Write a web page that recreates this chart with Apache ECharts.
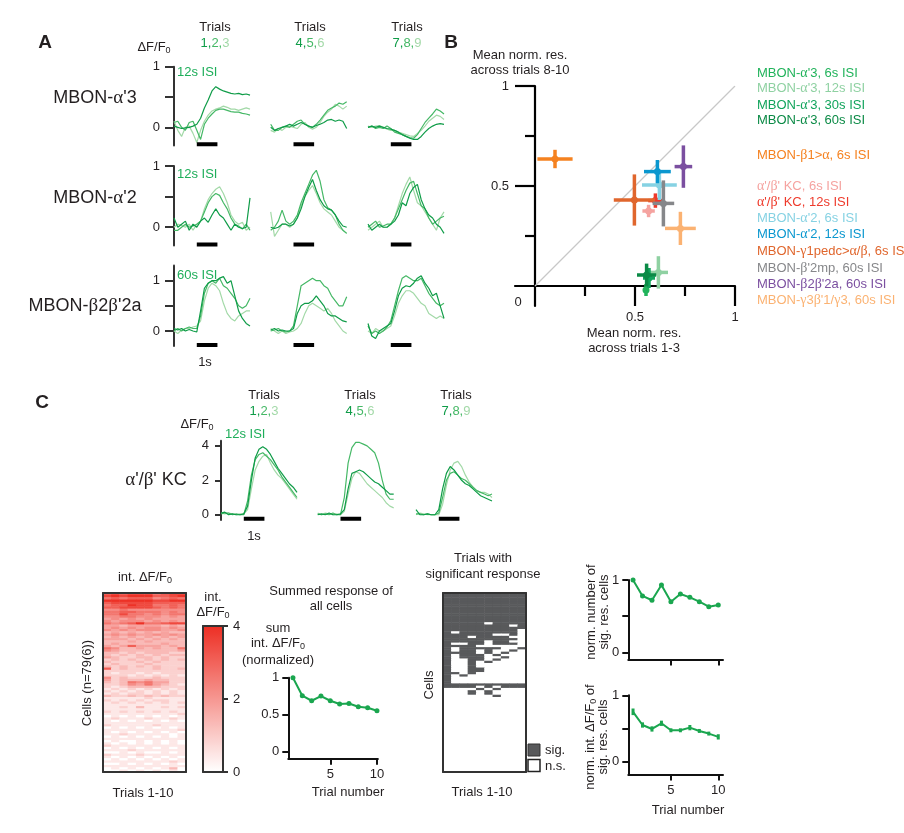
<!DOCTYPE html>
<html><head><meta charset="utf-8">
<script src="https://cdn.jsdelivr.net/npm/echarts@6.0.0/dist/echarts.min.js"></script>
<style>html,body{margin:0;padding:0;background:#fff}#c{width:904px;height:833px}</style>
</head><body><div id="c"></div><script>
// ---------------- DATA ----------------
const time = [0,0.175,0.35,0.525,0.7,0.875,1.05,1.225,1.4,1.575,1.75,1.925,2.1,2.275,2.45,2.625,2.8,2.975,3.15,3.325,3.5];
const stimulus = [1.05, 2.0];
const trialHeaders = [["1","2","3"],["4","5","6"],["7","8","9"]];

// Panel A: MBON-α'3 (12s ISI), trials 1-3 / 4-6 / 7-9
const alpha3_c1 = [
 [0.02,0.0,-0.02,-0.01,0.0,0.02,0.05,0.15,0.32,0.45,0.6,0.67,0.63,0.6,0.58,0.56,0.55,0.56,0.54,0.55,0.53],
 [0.08,0.1,0.0,-0.05,0.08,0.1,-0.05,-0.2,0.05,0.15,0.22,0.28,0.3,0.3,0.28,0.26,0.25,0.25,0.23,0.22,0.2],
 [0.1,-0.05,-0.15,0.0,0.02,-0.1,-0.25,-0.05,0.1,0.2,0.27,0.3,0.32,0.35,0.33,0.3,0.3,0.28,0.3,0.32,0.3]];
const alpha3_c2 = [
 [0.0,-0.05,-0.02,0.0,0.02,0.05,0.02,0.05,0.08,0.05,0.02,0.0,0.03,0.05,0.08,0.12,0.13,0.1,0.12,0.1,-0.02],
 [0.05,-0.05,-0.05,0.0,0.02,0.0,0.05,0.1,0.12,0.05,0.02,0.0,0.05,0.12,0.2,0.28,0.32,0.35,0.4,0.38,0.42],
 [-0.05,-0.08,-0.02,-0.05,0.0,0.02,0.0,-0.02,0.05,0.08,0.0,-0.03,0.0,0.08,0.18,0.25,0.3,0.38,0.35,0.3,0.35]];
const alpha3_c3 = [
 [0.0,0.02,0.0,0.02,0.0,-0.02,-0.03,-0.05,-0.08,-0.12,-0.15,-0.18,-0.2,-0.2,-0.15,-0.08,-0.02,0.02,0.05,0.06,0.05],
 [0.0,0.02,-0.02,0.0,-0.02,0.02,-0.02,-0.08,-0.1,-0.12,-0.15,-0.17,-0.18,-0.12,-0.02,0.08,0.15,0.22,0.3,0.27,0.22],
 [0.02,0.0,0.02,0.03,0.0,-0.03,-0.05,-0.05,-0.08,-0.1,-0.12,-0.14,-0.15,-0.1,-0.05,0.02,0.1,0.15,0.2,0.18,0.13]];
// MBON-α'2 (12s ISI)
const alpha2_c1 = [
 [0.15,0.0,0.05,0.1,-0.05,0.05,0.0,0.1,0.15,0.08,0.2,0.3,0.2,0.15,0.05,-0.05,0.05,0.0,-0.02,0.0,0.48],
 [-0.05,-0.05,0.0,0.05,0.0,0.02,0.05,0.1,0.25,0.4,0.5,0.55,0.52,0.4,0.3,0.15,0.05,0.02,-0.03,0.05,-0.05],
 [0.0,0.05,0.03,0.0,0.05,-0.05,0.05,0.1,0.3,0.45,0.55,0.62,0.66,0.55,0.4,0.2,0.1,0.05,0.08,-0.05,0.0]];
const alpha2_c2 = [
 [0.0,-0.02,0.0,0.05,0.05,0.02,0.05,0.15,0.3,0.5,0.65,0.78,0.6,0.45,0.35,0.3,0.28,0.2,0.1,0.02,0.0],
 [-0.05,0.0,0.1,0.28,0.1,0.05,0.1,0.2,0.4,0.55,0.7,0.85,0.93,0.75,0.45,0.32,0.28,0.2,0.05,-0.05,-0.1],
 [0.25,-0.15,-0.05,0.05,0.05,0.0,0.05,0.15,0.35,0.5,0.6,0.68,0.55,0.4,0.3,0.25,0.2,0.1,0.0,-0.05,-0.1]];
const alpha2_c3 = [
 [0.05,-0.05,0.0,0.05,0.0,0.0,0.05,0.1,0.2,0.4,0.35,0.55,0.65,0.7,0.45,0.3,0.2,0.15,0.05,0.0,-0.1],
 [0.0,0.05,0.1,0.0,0.02,0.05,0.05,0.15,0.3,0.45,0.6,0.72,0.75,0.55,0.35,0.3,0.15,0.05,0.1,0.15,0.18],
 [-0.05,0.0,0.05,0.1,0.0,0.0,0.05,0.15,0.35,0.55,0.7,0.82,0.6,0.4,0.35,0.25,0.15,0.05,-0.05,0.15,0.25]];
// MBON-β2β'2a (60s ISI)
const beta2_c1 = [
 [0.05,0.02,0.05,0.0,0.03,0.0,-0.02,0.4,0.85,0.95,1.0,1.0,1.05,1.08,0.95,1.0,0.7,0.4,0.25,0.15,0.1],
 [0.0,0.05,0.0,0.05,0.08,0.05,0.05,0.3,0.75,0.95,1.0,0.95,1.05,0.9,0.85,0.75,0.65,0.5,0.45,0.5,0.65],
 [0.0,-0.05,0.02,0.05,0.05,0.08,0.1,0.2,0.6,0.85,0.95,0.9,0.8,0.55,0.35,0.25,0.2,0.3,0.35,0.4,0.4]];
const beta2_c2 = [
 [0.02,0.05,0.0,0.02,0.0,0.0,0.05,0.35,0.5,0.55,0.55,0.6,0.7,0.6,0.5,0.35,0.3,0.3,0.25,0.2,0.18],
 [0.0,0.02,0.05,0.0,-0.02,0.0,0.1,0.5,0.9,0.95,1.0,1.05,1.0,1.0,0.9,0.85,0.7,0.6,0.5,0.5,0.68],
 [0.05,0.0,-0.05,0.0,-0.05,-0.02,0.0,0.05,0.15,0.35,0.5,0.55,0.5,0.45,0.4,0.45,0.35,0.2,0.1,0.0,-0.05]];
const beta2_c3 = [
 [0.15,-0.1,-0.15,0.0,0.05,0.1,0.15,0.4,0.7,0.85,0.9,0.88,0.95,1.05,1.1,0.95,0.85,0.7,0.75,0.5,0.25],
 [0.1,-0.05,0.0,-0.05,0.0,0.08,0.2,0.5,0.8,1.05,1.1,1.05,1.0,1.0,1.05,0.9,0.75,0.65,0.55,0.5,0.55],
 [0.0,-0.05,0.05,0.0,0.0,0.05,0.1,0.3,0.55,0.7,0.8,0.8,0.75,0.65,0.55,0.5,0.35,0.3,0.25,0.3,0.25]];
// Panel C: α'/β' KC (12s ISI)
const kc_c1 = [
 [0.1,0.15,0.0,0.05,0.0,0.0,0.05,0.5,2.0,3.3,3.8,3.95,3.8,3.5,3.1,2.7,2.4,2.1,1.8,1.6,1.3],
 [0.05,0.1,0.1,0.0,0.05,0.0,0.0,0.8,2.3,3.2,3.5,3.6,3.4,3.2,2.9,2.6,2.2,1.9,1.6,1.3,1.0],
 [0.1,0.05,0.1,0.05,0.0,0.05,0.05,0.3,1.5,2.6,3.1,3.4,3.5,3.0,2.6,2.3,2.1,1.8,1.5,1.2,0.9]];
const kc_c2 = [
 [0.0,0.05,0.0,0.1,0.0,0.0,0.05,0.3,1.5,2.4,2.5,2.6,2.5,2.3,2.1,1.9,1.8,1.6,1.4,1.2,1.2],
 [0.05,0.0,0.05,0.0,0.1,0.0,0.0,1.0,3.0,3.9,4.2,4.2,4.1,4.0,3.8,3.6,3.0,2.0,1.2,0.9,0.9],
 [0.1,0.0,0.1,0.05,0.0,0.05,0.0,0.2,1.2,2.1,2.5,2.4,2.1,1.8,1.6,1.4,1.2,1.0,0.7,0.5,0.4]];
const kc_c3 = [
 [0.3,0.0,0.0,0.05,0.0,0.0,0.3,1.5,2.4,2.8,2.6,2.3,2.0,1.8,1.7,1.5,1.3,1.1,1.0,0.9,0.8],
 [0.05,0.05,0.0,0.05,0.0,0.0,0.1,1.0,2.0,2.4,2.5,2.3,2.1,2.0,1.8,1.6,1.4,1.3,1.2,1.1,1.2],
 [0.0,0.1,0.05,0.0,0.0,0.0,0.0,0.6,1.7,2.6,3.0,3.1,2.8,2.3,1.9,1.6,1.4,1.3,1.3,1.2,1.0]];

// Panel B: mean normalized responses (x: trials 1-3, y: trials 8-10)
const bNames = ["MBON-α'3, 6s ISI","MBON-α'3, 12s ISI","MBON-α'3, 30s ISI","MBON-α'3, 60s ISI","MBON-β1>α, 6s ISI","α'/β' KC, 6s ISI","α'/β' KC, 12s ISI","MBON-α'2, 6s ISI","MBON-α'2, 12s ISI","MBON-γ1pedc>α/β, 6s ISI","MBON-β'2mp, 60s ISI","MBON-β2β'2a, 60s ISI","MBON-γ3β'1/γ3, 60s ISI"];
const bX    = [0.555,0.617,0.57,0.558,0.10,0.568,0.602,0.622,0.612,0.497,0.642,0.742,0.727];
const bY    = [-0.02,0.068,0.04,0.055,0.635,0.375,0.427,0.505,0.572,0.43,0.413,0.597,0.288];
const bXerr = [0.015,0.048,0.03,0.048,0.088,0.031,0.036,0.087,0.067,0.103,0.054,0.044,0.077];
const bYerr = [0.03,0.081,0.05,0.057,0.046,0.031,0.036,0.075,0.058,0.128,0.115,0.106,0.083];
const diagonal = [[0,0],[1,1]];

// Heatmap: int. ΔF/F0 per cell (rows) x trial (cols), digit d -> d*0.44
const heatRows = ["7878886788","8989997789","6767775676","9999998899","7888887777","6779886676","7788887676","5565555555","6677666565","6686656566",
"5566555454","4545454444","5455545454","6567966788","4434444343","4545455454","5454555445","3434343433","4545445454","3434343434",
"4443434343","3334343333","3433333433","4347444343","6533434336","5433333334","3323233322","3232323233","4322332322","2323232323",
"3222323222","2322232222","3232323222","7232223223","2222222222","2122121222","2221212121","5232223222","4233343322","3236564422",
"2235464321","2123333222","1212121212","2121212121","1212212121","3223232322","1111121111","2121212211","1212121212","1111111111",
"1121311212","1111111111","2121212121","1111111112","0101010101","1211121121","1010101010","1111111111","2111112111","0101010101",
"1111111112","1010101010","1121111101","0101010101","1111111111","0100101010","1010101010","2111111111","0101010101","1112111111",
"0010100101","2111211111","1010101010","0101010101","1111111121","0010101010","1111111111","0101010130","0010101010"];
// Significant response (1) / n.s. (0)
const sigRows = ["1111111111","1111111111","1111111111","1111111111","1111111111","1111111111","1111111111","1111111111","1111111111","1111111111",
"1111111111","1111111111","1111111111","1111101111","1111111101","1111111111","1111111110","1011111110","1111110010","1110111100",
"1111111110","1111101100","1001101110","1111000000","1011111001","1011010010","1111010100","1011101000","1011100100","1001101000",
"1001010000","1001000000","1001000000","1001100000","1001100000","1101000000","1010000000","1000000000","1000000000","1000000000",
"1111111111","1111010111","0000101000","0001010000","0001010000","0000001000","0000000000","0000000000","0000000000","0000000000",
"0000000000","0000000000","0000000000","0000000000","0000000000","0000000000","0000000000","0000000000","0000000000","0000000000",
"0000000000","0000000000","0000000000","0000000000","0000000000","0000000000","0000000000","0000000000","0000000000","0000000000",
"0000000000","0000000000","0000000000","0000000000","0000000000","0000000000","0000000000","0000000000","0000000000"];
const trialNums = [1,2,3,4,5,6,7,8,9,10];
const sumResp   = [1.0,0.755,0.687,0.75,0.687,0.642,0.65,0.605,0.592,0.551];
const sigFrac   = [1.0,0.78,0.72,0.93,0.70,0.806,0.76,0.70,0.63,0.654];
const sigInt    = [0.75,0.55,0.49,0.576,0.47,0.47,0.51,0.46,0.42,0.37];
const sigIntErr = [0.05,0.04,0.04,0.04,0.03,0.03,0.04,0.03,0.03,0.04];

// ---------------- STYLE ----------------
const FONT = '"Liberation Sans", Arial, sans-serif';
const INK = '#231f20';
const AX = '#333333';
const trialColors = ['#0f9c48', '#45b866', '#a3d9a8'];
const GREEN = '#1aa64f';
const bColors = ['#21b35b','#8fd1a2','#12a45c','#0b8a46','#f58220','#f5a3a0','#ee3a2b','#86d2e3','#0a97cf','#e0662d','#86878a','#7b4fa0','#fbb272'];

// ---------------- BUILD ----------------
const grids = [], xAxes = [], yAxes = [], series = [], graphics = [];
const ls = (w, c) => ({ color: c || AX, width: w || 2 });
const noSplit = { show: false };

function tracePanel(left, top, height, ymin, ymax, traces, showY, ticks, labels, tickLen, labMargin) {
  const gi = grids.length;
  grids.push({ left, top, width: 76, height });
  const xi = xAxes.length;
  xAxes.push({ gridIndex: gi, type: 'value', min: 0, max: 3.5, show: false });
  const yi = yAxes.length;
  yAxes.push({ gridIndex: gi, type: 'value', min: ymin, max: ymax, show: showY,
    axisLine: { show: true, onZero: false, lineStyle: ls(2) },
    axisTick: { show: true, customValues: ticks, length: tickLen, lineStyle: ls(2) },
    axisLabel: { show: true, customValues: labels, margin: labMargin, fontSize: 13, color: INK, fontFamily: FONT },
    splitLine: noSplit });
  for (let k = traces.length - 1; k >= 0; k--) {
    series.push({ type: 'line', xAxisIndex: xi, yAxisIndex: yi, data: time.map((tt, i) => [tt, traces[k][i]]),
      showSymbol: false, symbol: 'none', lineStyle: { color: trialColors[k], width: 1.2 }, silent: true });
  }
  const barY = ymin + 0.015 * (ymax - ymin);
  series.push({ type: 'line', xAxisIndex: xi, yAxisIndex: yi, data: stimulus.map(s => [s, barY]),
    showSymbol: false, symbol: 'none', clip: false, lineStyle: { color: '#000', width: 4, cap: 'butt' }, silent: true, z: 5 });
}

// Panel A
const colLeft = [174, 270.7, 368];
const rowsA = [
  { top: 66.7, h: 78.8, min: -0.3, max: 1, d: [alpha3_c1, alpha3_c2, alpha3_c3] },
  { top: 166, h: 79.6, min: -0.3, max: 1, d: [alpha2_c1, alpha2_c2, alpha2_c3] },
  { top: 265.6, h: 80.5, min: -0.3, max: 1.3, d: [beta2_c1, beta2_c2, beta2_c3] }];
rowsA.forEach(r => r.d.forEach((tr, c) => tracePanel(colLeft[c], r.top, r.h, r.min, r.max, tr, c === 0, [0, 0.5, 1], [0, 1], 9, 14)));
// Panel C
const colLeftC = [221, 317.7, 416];
[kc_c1, kc_c2, kc_c3].forEach((tr, c) => tracePanel(colLeftC[c], 440.7, 79.2, -0.3, 4.3, tr, c === 0, [0, 2, 4], [0, 2, 4], 6, 12));

// Panel B
{
  const gi = grids.length;
  grids.push({ left: 515, top: 86, width: 220, height: 220 });
  const xi = xAxes.length, yi = yAxes.length;
  xAxes.push({ gridIndex: gi, type: 'value', min: -0.1, max: 1, position: 'bottom',
    axisLine: { show: true, onZero: true, lineStyle: ls(2.2, '#000') },
    axisTick: { show: true, customValues: [0.5, 1], length: 20, lineStyle: ls(2.2, '#000') },
    axisLabel: { show: true, customValues: [0.5, 1], margin: 5, fontSize: 13, color: INK, fontFamily: FONT },
    splitLine: noSplit });
  xAxes.push({ gridIndex: gi, type: 'value', min: -0.1, max: 1, position: 'bottom',
    axisLine: { show: false, onZero: true }, axisTick: { show: true, customValues: [0.25, 0.75], length: 10, lineStyle: ls(2.2, '#000') },
    axisLabel: { show: false }, splitLine: noSplit });
  yAxes.push({ gridIndex: gi, type: 'value', min: -0.1, max: 1, position: 'left',
    axisLine: { show: true, onZero: true, lineStyle: ls(2.2, '#000') },
    axisTick: { show: true, customValues: [0.5, 1], length: 20, lineStyle: ls(2.2, '#000') },
    axisLabel: { show: true, customValues: [0.5, 1], margin: 6, fontSize: 13, color: INK, fontFamily: FONT },
    splitLine: noSplit });
  yAxes.push({ gridIndex: gi, type: 'value', min: -0.1, max: 1, position: 'left',
    axisLine: { show: false, onZero: true }, axisTick: { show: true, customValues: [0.25, 0.75], length: 10, lineStyle: ls(2.2, '#000') },
    axisLabel: { show: false }, splitLine: noSplit });
  series.push({ type: 'line', xAxisIndex: xi, yAxisIndex: yi, data: diagonal, showSymbol: false, symbol: 'none',
    lineStyle: { color: '#c8c8c8', width: 1.2 }, silent: true, z: 1 });
  series.push({ type: 'custom', xAxisIndex: xi, yAxisIndex: yi, silent: true, z: 3,
    data: bX.map((x, i) => [x, bY[i], bXerr[i], bYerr[i]]),
    renderItem: (params, api) => {
      const c = bColors[params.dataIndex];
      const x = api.value(0), y = api.value(1), ex = api.value(2), ey = api.value(3);
      const h1 = api.coord([x - ex, y]), h2 = api.coord([x + ex, y]);
      const v1 = api.coord([x, y - ey]), v2 = api.coord([x, y + ey]), p = api.coord([x, y]);
      return { type: 'group', children: [
        { type: 'line', shape: { x1: h1[0], y1: h1[1], x2: h2[0], y2: h2[1] }, style: { stroke: c, lineWidth: 3.5 } },
        { type: 'line', shape: { x1: v1[0], y1: v1[1], x2: v2[0], y2: v2[1] }, style: { stroke: c, lineWidth: 3.5 } },
        { type: 'circle', shape: { cx: p[0], cy: p[1], r: 3.5 }, style: { fill: c } }] };
    } });
}

// frame helper for heatmap-like boxes
function frameAxes(gi, extraRight) {
  xAxes.push({ gridIndex: gi, type: 'value', min: 0, max: 1, position: 'top', z: 10,
    axisLine: { show: true, onZero: false, lineStyle: ls(2) }, axisTick: { show: false }, axisLabel: { show: false }, splitLine: noSplit });
  xAxes.push({ gridIndex: gi, type: 'value', min: 0, max: 1, position: 'bottom', z: 10,
    axisLine: { show: true, onZero: false, lineStyle: ls(2) }, axisTick: { show: false }, axisLabel: { show: false }, splitLine: noSplit });
  yAxes.push({ gridIndex: gi, type: 'value', min: 0, max: 1, position: 'left', z: 10,
    axisLine: { show: true, onZero: false, lineStyle: ls(2) }, axisTick: { show: false }, axisLabel: { show: false }, splitLine: noSplit });
  yAxes.push(Object.assign({ gridIndex: gi, type: 'value', min: 0, max: 1, position: 'right', z: 10,
    axisLine: { show: true, onZero: false, lineStyle: ls(2) }, axisTick: { show: false }, axisLabel: { show: false }, splitLine: noSplit }, extraRight || {}));
}

function cellHeatmap(left, rows, scale) {
  const gi = grids.length;
  grids.push({ left, top: 593, width: 83, height: 179 });
  const xi = xAxes.length, yi = yAxes.length;
  xAxes.push({ gridIndex: gi, type: 'category', data: trialNums.map(String), show: false });
  yAxes.push({ gridIndex: gi, type: 'category', data: rows.map((_, i) => String(i)), inverse: true, show: false });
  frameAxes(gi);
  const data = [];
  rows.forEach((s, r) => { for (let c = 0; c < 10; c++) data.push([c, r, +s[c] * scale]); });
  const si = series.length;
  series.push({ type: 'heatmap', xAxisIndex: xi, yAxisIndex: yi, data, silent: true, z: 2 });
  return si;
}
const heatIdx = cellHeatmap(103, heatRows, 0.44);
const sigIdx = cellHeatmap(443, sigRows, 1);

// colorbar frame with axis
{
  const gi = grids.length;
  grids.push({ left: 203, top: 626, width: 20, height: 146 });
  frameAxes(gi, { min: 0, max: 4, interval: 2,
    axisTick: { show: true, length: 5, lineStyle: ls(2) },
    axisLabel: { show: true, margin: 10, fontSize: 13, color: INK, fontFamily: FONT } });
}

// small line plots
function linePlot(left, top, width, height, xmax, ymin, vals, yLabels, xLabels, symbol, errs) {
  const gi = grids.length;
  grids.push({ left, top, width, height });
  const xi = xAxes.length, yi = yAxes.length;
  xAxes.push({ gridIndex: gi, type: 'value', min: 0.5, max: xmax,
    axisLine: { show: true, onZero: false, lineStyle: ls(2, '#111') },
    axisTick: { show: true, customValues: [5, 10], length: 6, lineStyle: ls(2, '#111') },
    axisLabel: { show: xLabels, customValues: [5, 10], margin: 9, fontSize: 13, color: INK, fontFamily: FONT },
    splitLine: noSplit });
  yAxes.push({ gridIndex: gi, type: 'value', min: ymin, max: 1,
    axisLine: { show: true, onZero: false, lineStyle: ls(2, '#111') },
    axisTick: { show: true, customValues: [0, 0.5, 1], length: 6, lineStyle: ls(2, '#111') },
    axisLabel: { show: true, customValues: yLabels, margin: 9, fontSize: 13, color: INK, fontFamily: FONT },
    splitLine: noSplit });
  series.push({ type: 'line', xAxisIndex: xi, yAxisIndex: yi, data: trialNums.map((n, i) => [n, vals[i]]),
    symbol: symbol, symbolSize: 5, showSymbol: symbol !== 'none', lineStyle: { color: GREEN, width: 2 },
    itemStyle: { color: GREEN }, silent: true, z: 3 });
  if (errs) {
    series.push({ type: 'custom', xAxisIndex: xi, yAxisIndex: yi, silent: true, z: 4,
      data: trialNums.map((n, i) => [n, vals[i], errs[i]]),
      renderItem: (params, api) => {
        const x = api.value(0), y = api.value(1), e = api.value(2);
        const a = api.coord([x, y - e]), b = api.coord([x, y + e]);
        return { type: 'line', shape: { x1: a[0], y1: a[1], x2: b[0], y2: b[1] }, style: { stroke: GREEN, lineWidth: 3 } };
      } });
  }
}
linePlot(288.3, 677.7, 89.6, 81, 10.1, -0.1, sumResp, [0, 0.5, 1], true, 'circle');
linePlot(628.3, 580, 94.7, 79.5, 10.5, -0.1, sigFrac, [0, 1], false, 'circle');
linePlot(628.3, 695.3, 94.7, 79.2, 10.5, -0.2, sigInt, [0, 1], true, 'none', sigIntErr);

// ---------------- TEXT ----------------
const gk = s => s.replace(/([αβγ])/g, '{g|$1}');
function T(x, y, text, o) {
  o = o || {};
  const size = o.size || 13, col = o.color || INK;
  return { type: 'text', x, y, rotation: o.rot || 0, silent: true, z: 100,
    style: { text, fill: col, font: (o.bold ? 'bold ' : '') + size + 'px ' + FONT,
      textAlign: o.align || 'center', textVerticalAlign: 'middle', align: o.align || 'center', verticalAlign: 'middle',
      rich: {
        g: { fontFamily: '"Liberation Serif", serif', fontSize: size + 1, fill: col },
        s: { fontFamily: FONT, fontSize: size - 4, fill: col, padding: [7, 0, 0, 0] },
        d1: { fontFamily: FONT, fontSize: size, fill: trialColors[0] },
        d2: { fontFamily: FONT, fontSize: size, fill: trialColors[1] },
        d3: { fontFamily: FONT, fontSize: size, fill: trialColors[2] } } } };
}
const dff = 'ΔF/F{s|0}';
const hdr = h => '{d1|' + h[0] + ',}{d2|' + h[1] + ',}{d3|' + h[2] + '}';
graphics.push(T(45, 43, 'A', { bold: true, size: 19 }), T(451, 43, 'B', { bold: true, size: 19 }), T(42, 403, 'C', { bold: true, size: 19 }));
[215, 310, 407].forEach((x, i) => { graphics.push(T(x, 27, 'Trials'), T(x, 43, hdr(trialHeaders[i]))); });
graphics.push(T(154, 47, dff));
graphics.push(T(177, 72, '12s ISI', { align: 'left', color: '#1eae5a' }), T(177, 174, '12s ISI', { align: 'left', color: '#1eae5a' }), T(177, 275, '60s ISI', { align: 'left', color: '#1eae5a' }));
graphics.push(T(95, 98, gk("MBON-α'3"), { size: 18 }), T(95, 198, gk("MBON-α'2"), { size: 18 }), T(85, 306, gk("MBON-β2β'2a"), { size: 18 }));
graphics.push(T(205, 362, '1s'));
[264, 360, 456].forEach((x, i) => { graphics.push(T(x, 395, 'Trials'), T(x, 411, hdr(trialHeaders[i]))); });
graphics.push(T(197, 424, dff), T(225, 434, '12s ISI', { align: 'left', color: '#1eae5a' }), T(156, 480, gk("α'/β' KC"), { size: 18 }), T(254, 536, '1s'));
// B
graphics.push(T(520, 55, 'Mean norm. res.'), T(520, 70, 'across trials 8-10'), T(634, 333, 'Mean norm. res.'), T(634, 348, 'across trials 1-3'), T(518, 302, '0'));
const legY = [73, 88, 105, 120, 155, 186, 202, 218, 234, 251, 268, 284, 300];
bNames.forEach((n, i) => graphics.push(T(757, legY[i], gk(n), { align: 'left', color: bColors[i] })));
// bottom row
graphics.push(T(145, 577, 'int. ' + dff), T(87, 683, 'Cells (n=79(6))', { rot: Math.PI / 2 }), T(143, 793, 'Trials 1-10'));
graphics.push(T(213, 597, 'int.'), T(213, 612, dff));
graphics.push(T(331, 591, 'Summed response of'), T(331, 606, 'all cells'), T(278, 628, 'sum'), T(278, 643, 'int. ' + dff), T(278, 660, '(normalized)'), T(348, 792, 'Trial number'));
graphics.push(T(483, 558, 'Trials with'), T(483, 574, 'significant response'), T(429, 685, 'Cells', { rot: Math.PI / 2 }), T(482, 792, 'Trials 1-10'));
graphics.push({ type: 'rect', shape: { x: 528, y: 744, width: 12, height: 12 }, style: { fill: '#58595b', stroke: '#333', lineWidth: 1 }, silent: true });
graphics.push({ type: 'rect', shape: { x: 528, y: 759.5, width: 12, height: 12 }, style: { fill: '#fff', stroke: '#222', lineWidth: 1.5 }, silent: true });
graphics.push(T(545, 750, 'sig.', { align: 'left' }), T(545, 766, 'n.s.', { align: 'left' }));
graphics.push(T(591, 612, 'norm. number of', { rot: Math.PI / 2 }), T(604, 612, 'sig. res. cells', { rot: Math.PI / 2 }));
graphics.push(T(590, 737, 'norm. int. ' + dff + ' of', { rot: Math.PI / 2 }), T(603, 737, 'sig. res. cells', { rot: Math.PI / 2 }));
graphics.push(T(688, 810, 'Trial number'));

const option = {
  animation: false,
  backgroundColor: '#ffffff',
  textStyle: { fontFamily: FONT },
  grid: grids, xAxis: xAxes, yAxis: yAxes, series,
  visualMap: [
    { type: 'continuous', min: 0, max: 4, seriesIndex: heatIdx, inRange: { color: ['#ffffff', '#ed2f24'] },
      left: 203, top: 626, itemWidth: 20, itemHeight: 146, padding: 0, calculable: false, show: true, text: null, hoverLink: false },
    { type: 'piecewise', seriesIndex: sigIdx, show: false, pieces: [{ value: 1, color: '#58595b' }, { value: 0, color: '#ffffff' }] }],
  graphic: graphics
};
const chart = echarts.init(document.getElementById('c'), null, { renderer: 'canvas' });
chart.setOption(option);
</script></body></html>
